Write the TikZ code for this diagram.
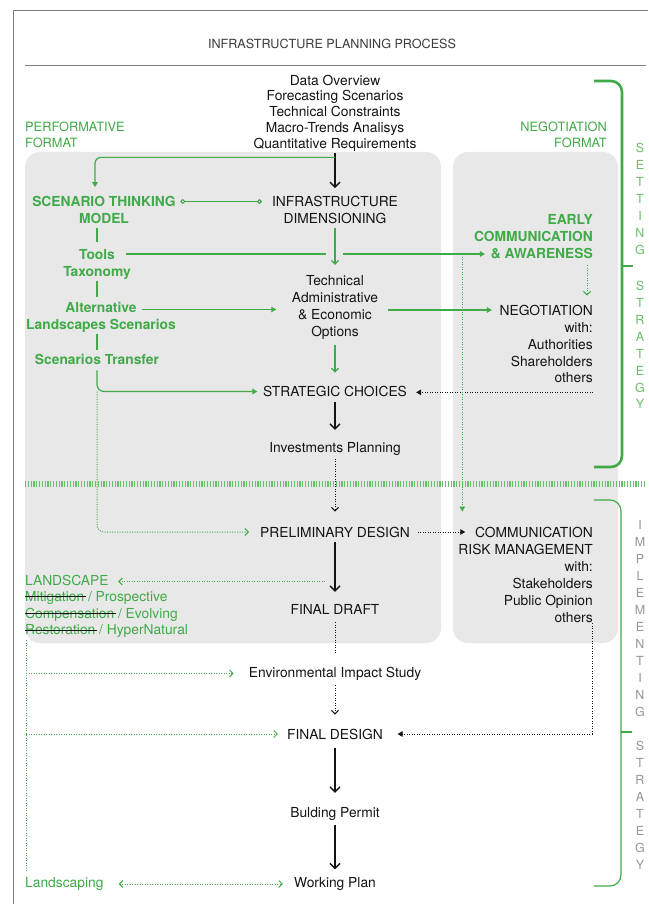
\documentclass[tikz,border=0pt]{standalone}
\usepackage{fontspec}
\setmainfont{TeX Gyre Heros}
\usetikzlibrary{arrows.meta}
\definecolor{gr}{RGB}{64,170,72}
\definecolor{grl}{RGB}{105,190,105}
\definecolor{boxg}{RGB}{232,232,232}
\definecolor{ink}{RGB}{20,20,20}
\definecolor{frameg}{RGB}{125,125,125}
\definecolor{lettg}{RGB}{150,150,150}
\definecolor{titleg}{RGB}{60,60,60}
\newcommand\mf{\fontsize{13.8}{17}\selectfont}
\newsavebox\strkbox
\newcommand\strk[1]{\sbox\strkbox{#1}\rlap{\usebox\strkbox}{\color{ink}\rule[0.3em]{\dimexpr\wd\strkbox+1.5pt\relax}{0.9pt}}\hspace{-1.5pt}}
\begin{document}
\begin{tikzpicture}[x=1pt,y=-1pt,
  txt/.style={inner sep=1pt, align=center, text=ink, font=\mf},
  gb/.style={txt, text=gr, font=\mf\bfseries},
  gt/.style={txt, text=gr},
  lett/.style={inner sep=0pt, font=\fontsize{12.5}{14}\selectfont},
  barrow/.style={draw=ink, line width=1.3pt, -{Straight Barb[length=5pt,width=10pt]}},
  bdot/.style={draw=ink, line width=1pt, dash pattern=on 1pt off 1.5pt},
  gline/.style={draw=gr, line width=1.2pt},
  gdot/.style={draw=gr, line width=1pt, dash pattern=on 1pt off 1.5pt},
  chev/.style={-{Straight Barb[length=3.5pt,width=7pt]}},
  tri/.style={-{Triangle[length=5pt,width=5.5pt]}}]
\useasboundingbox (0,0) rectangle (648,904);
\fill[white] (0,0) rectangle (648,904);
% frame and title rule
\draw[frameg, line width=0.9pt] (13,904) -- (13,10.5) -- (648,10.5);
\draw[frameg, line width=0.8pt] (25,65) -- (646,65);
% grey panels
\fill[boxg, rounded corners=15pt] (25,152) rectangle (441,643);
\fill[boxg, rounded corners=15pt] (453,152) rectangle (618,643);
% separator
\draw[grl, line width=6pt, dash pattern=on 1.2pt off 1.6pt] (25,484) -- (646,484);
% brackets
\draw[gr, line width=2.6pt, rounded corners=11pt] (594,81) -| (622,467) -- (594,467);
\draw[gr, line width=2.6pt] (622,266) -- (633,266);
\draw[gr, line width=1.2pt, rounded corners=11pt] (594,500) -| (621,886) -- (594,886);
\draw[gr, line width=1.2pt] (621,732) -- (632,732);
% vertical letters
\foreach \l/\y [count=\i] in {S/148,E/165,T/182,T/199,I/216,N/233,G/250,S/286,T/303,R/320,A/337,T/354,E/371,G/387.5,Y/404}
  \node[lett, text=grl] (up\i) at (640,\y) {\l};
\foreach \l/\y [count=\i] in {I/524.5,M/541.5,P/558.5,L/575.5,E/592.5,M/609.5,E/626.5,N/643.5,T/660.5,I/677.5,N/694.5,G/711.5,S/746,T/763,R/780,A/797,T/814,E/831,G/848,Y/865}
  \node[lett, text=lettg] (lo\i) at (640,\y) {\l};
% texts
\node[txt, text=titleg, font=\fontsize{12.6}{15}\selectfont] (title) at (332,44) {INFRASTRUCTURE PLANNING PROCESS};
\node[txt, font=\fontsize{13.8}{15.75}\selectfont] (data) at (335,113) {Data Overview\\Forecasting Scenarios\\Technical Constraints\\Macro-Trends Analisys\\Quantitative Requirements};
\node[gt, font=\fontsize{12.8}{16}\selectfont, anchor=west, align=left] (perf) at (24,135) {PERFORMATIVE\\FORMAT};
\node[gt, font=\fontsize{12.8}{16}\selectfont, anchor=east, align=right] (negf) at (608,135) {NEGOTIATION\\FORMAT};
\node[gb] (stm) at (104,210) {SCENARIO THINKING\\MODEL};
\node[txt] (infra) at (335,210) {INFRASTRUCTURE\\DIMENSIONING};
\node[gb] (tools) at (97,264) {Tools\\Taxonomy};
\node[txt, font=\fontsize{13.8}{17.3}\selectfont] (tech) at (335,307.5) {Technical\\Administrative\\\& Economic\\Options};
\node[gb] (alt) at (101,317) {Alternative\\Landscapes Scenarios};
\node[gb] (transfer) at (97,359.5) {Scenarios Transfer};
\node[gb, anchor=east, align=right] (early) at (594,237) {EARLY\\COMMUNICATION\\\& AWARENESS};
\node[txt, font=\fontsize{13.8}{16.8}\selectfont, anchor=east, align=right] (nego) at (594,344.3) {NEGOTIATION\\with:\\Authorities\\Shareholders\\others};
\node[txt] (strat) at (335,391.5) {STRATEGIC CHOICES};
\node[txt] (invest) at (335,448.5) {Investments Planning};
\node[txt] (prelim) at (335,532) {PRELIMINARY DESIGN};
\node[txt, anchor=east, align=right] (comm) at (594,574.5) {COMMUNICATION\\RISK MANAGEMENT\\with:\\Stakeholders\\Public Opinion\\others};
\node[txt] (fdraft) at (335,609) {FINAL DRAFT};
\node[gt, anchor=west] (land) at (24,580) {LANDSCAPE};
\node[gt, font=\fontsize{13.8}{16.7}\selectfont, anchor=west, align=left] (landopts) at (24,614.7) {\strk{Mitigation} / Prospective\\\strk{Compensation} / Evolving\\\strk{Restoration} / HyperNatural};
\node[txt] (env) at (335,673.4) {Environmental Impact Study};
\node[txt] (fdesign) at (335,734) {FINAL DESIGN};
\node[txt] (permit) at (335,813.5) {Bulding Permit};
\node[txt] (work) at (335,884) {Working Plan};
\node[gt, anchor=west] (landsc) at (24,884) {Landscaping};
% helper coordinates
\path (data.south) ++(0,5) coordinate (fb);
\coordinate (toolsR) at ([xshift=-5.5pt,yshift=10pt]tools.east);
\path (toolsR -| infra.south) ++(-9,0) coordinate (gapA) ++(17,0) coordinate (gapB);
\path (toolsR -| comm.west) ++(5,0) coordinate (gsplit);
\coordinate (altR) at ([xshift=-35pt,yshift=7.5pt]alt.east);
\coordinate (techR) at ([xshift=9pt,yshift=-2.5pt]tech.east);
\coordinate (negoS) at ([xshift=-1pt,yshift=-8pt]nego.south east);
\path (prelim.south) ++(-10,43) coordinate (ldsrc);
\coordinate (gvtop) at ([xshift=2pt,yshift=-1pt]landopts.south west);
\coordinate (gvbot) at ([xshift=2pt,yshift=6pt]landsc.north west);
% black main flow
\draw[barrow, shorten <=1pt, shorten >=7pt] (data) -- (infra);
\draw[barrow, shorten <=4pt, shorten >=11pt] (strat) -- (invest);
\draw[bdot, chev, shorten <=2.5pt, shorten >=14pt] (invest) -- (prelim);
\draw[barrow, shorten <=4pt, shorten >=11pt] (prelim) -- (fdraft);
\draw[bdot, shorten <=7pt, shorten >=11pt] (fdraft) -- (env);
\draw[bdot, chev, shorten <=4pt, shorten >=13pt] (env) -- (fdesign);
\draw[barrow, shorten <=8pt, shorten >=13pt] (fdesign) -- (permit);
\draw[barrow, shorten <=4pt, shorten >=7pt] (permit) -- (work);
% green feedback to scenario model
\draw[gline, tri, rounded corners=6pt, shorten >=8pt] (fb) -| ([xshift=-9pt]stm.north);
\draw[gline, line width=1pt, {Circle[open,length=4.8pt,width=4.8pt]}-{Circle[open,length=4.8pt,width=4.8pt]}] ([xshift=3.5pt,yshift=8.5pt]stm.east) -- ([xshift=-9pt,yshift=8.5pt]infra.west);
% green left chain
\draw[gline, shorten <=3.5pt, shorten >=5.5pt] (stm.south -| tools.north) -- (tools.north);
\draw[gline, shorten <=0.5pt, shorten >=4pt] (tools.south) -- (alt.north -| tools.south);
\draw[gline, shorten <=0.5pt, shorten >=3.5pt] (alt.south -| transfer.north) -- (transfer.north);
\draw[gline, tri, rounded corners=7pt, shorten <=4.5pt, shorten >=4.5pt] (transfer.south) |- (strat.west);
\draw[gdot, chev, rounded corners=7pt, shorten >=10pt] (transfer.south |- strat.west) |- (prelim.west);
% green middle
\draw[gline, chev, shorten <=3.5pt, shorten >=9pt] (infra) -- (tech);
\draw[gline, chev, shorten <=4pt, shorten >=12.5pt] (tech) -- (strat);
\draw[gline] (toolsR) -- (gapA);
\draw[gline, tri, shorten >=-12pt] (gapB) -- (toolsR -| early.west);
\draw[gline, tri, shorten >=14.5pt] (altR) -- (altR -| tech.west);
\draw[gline, tri, shorten >=6.5pt] (techR) -- (techR -| nego.west);
% negotiation side
\draw[gdot, chev, shorten <=5pt, shorten >=8.7pt] ([xshift=-7pt]early.south east) -- ([xshift=-7pt]nego.north east);
\draw[bdot, tri, shorten >=8pt] (negoS) -- (negoS -| strat.east);
\draw[gdot, tri, shorten >=14pt] (gsplit) -- (gsplit |- comm.north);
\draw[bdot, tri, shorten <=7pt, shorten >=-8pt] (prelim.east) -- (prelim.east -| comm.west);
\draw[bdot, tri, shorten >=13.5pt] ([xshift=-2pt]comm.south east) |- (fdesign.east);
% landscape side
\draw[gdot, chev, shorten >=8.4pt] (ldsrc) -- (ldsrc -| land.east);
\draw[gdot] (gvtop) -- (gvbot);
\draw[gdot, chev, shorten >=14pt] (gvtop |- env.west) -- (env.west);
\draw[gdot, chev, shorten >=8pt] (gvtop |- fdesign.west) -- (fdesign.west);
\draw[gdot, {Straight Barb[length=3.5pt,width=7pt]}-{Straight Barb[length=3.5pt,width=7pt]}, shorten <=14pt, shorten >=10pt] (landsc.east) -- (landsc.east -| work.west);
\end{tikzpicture}
\end{document}
